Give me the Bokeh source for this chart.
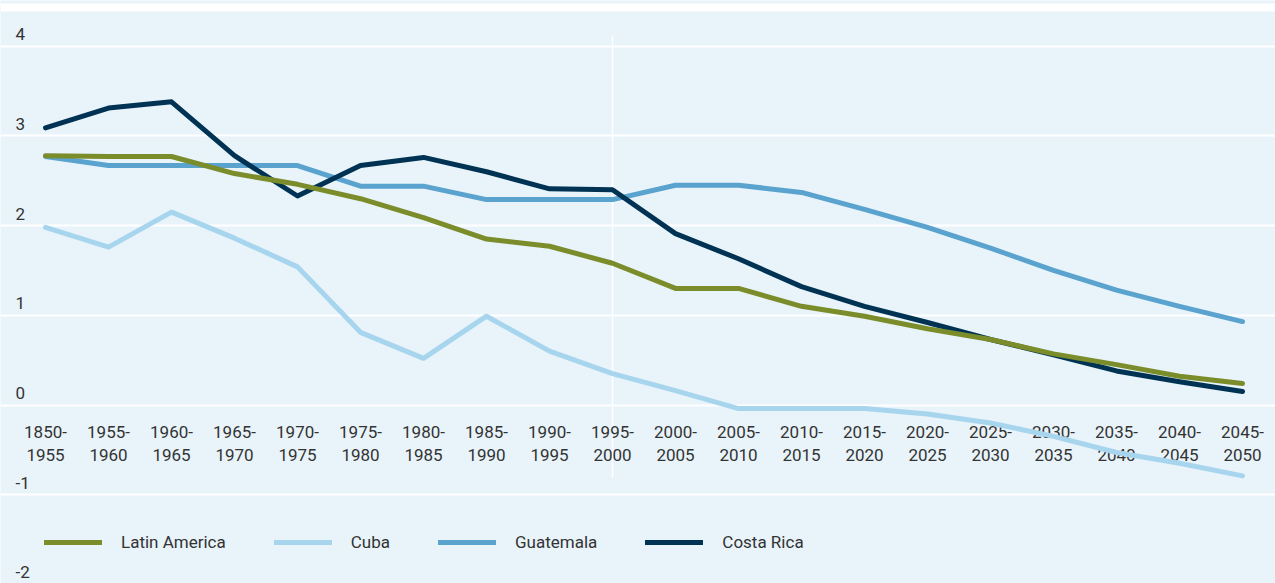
from bokeh.plotting import figure
from bokeh.models import Range1d, Grid, FixedTicker, Legend, LegendItem, BoxAnnotation
from bokeh.core.properties import value
from bokeh.embed import file_html
from bokeh.resources import INLINE

periods = ["1850-1955", "1955-1960", "1960-1965", "1965-1970", "1970-1975",
           "1975-1980", "1980-1985", "1985-1990", "1990-1995", "1995-2000",
           "2000-2005", "2005-2010", "2010-2015", "2015-2020", "2020-2025",
           "2025-2030", "2030-2035", "2035-2040", "2040-2045", "2045-2050"]
latin_america = [2.78, 2.77, 2.77, 2.58, 2.46, 2.30, 2.09, 1.85, 1.77, 1.58,
                 1.30, 1.30, 1.10, 0.99, 0.85, 0.73, 0.57, 0.45, 0.32, 0.24]
cuba = [1.98, 1.76, 2.15, 1.86, 1.54, 0.81, 0.52, 0.99, 0.60, 0.35,
        0.16, -0.04, -0.04, -0.04, -0.10, -0.20, -0.35, -0.53, -0.65, -0.79]
guatemala = [2.77, 2.67, 2.67, 2.67, 2.67, 2.44, 2.44, 2.29, 2.29, 2.29,
             2.45, 2.45, 2.37, 2.18, 1.98, 1.75, 1.50, 1.28, 1.10, 0.93]
costa_rica = [3.09, 3.31, 3.38, 2.78, 2.33, 2.67, 2.76, 2.60, 2.41, 2.40,
              1.91, 1.63, 1.32, 1.10, 0.92, 0.73, 0.56, 0.38, 0.26, 0.15]
y_ticks = [-2, -1, 0, 1, 2, 3, 4]

W, H = 1275, 583
FONT = "Roboto"
FS = "17px"
TXT = "#333333"
BG = "#e8f3fa"

# pixel geometry
X0_PX, DX_PX = 45.0, 63.0
Y0_PX, DY_PX = 404.5, 89.7

def dx(px):
    return (px - X0_PX) / DX_PX

def dy(py):
    return (Y0_PX - py) / DY_PX

x = list(range(len(periods)))

p = figure(width=W, height=H, output_backend="svg", toolbar_location=None,
           x_range=Range1d(dx(0), dx(W)), y_range=Range1d(dy(H), dy(0)),
           x_axis_location=None, y_axis_location=None,
           background_fill_color=BG, border_fill_color=BG,
           min_border=0, outline_line_color=None, margin=(0, 0, 0, 0))
p.grid.visible = False

# white strip at top
p.add_layout(BoxAnnotation(bottom=dy(11), top=dy(3), fill_color="white", fill_alpha=1,
                           line_alpha=0, level="underlay"))

grid = Grid(dimension=1, ticker=FixedTicker(ticks=y_ticks), grid_line_color="white",
            grid_line_width=2, bounds=(dx(15), dx(W)))
p.add_layout(grid)

# vertical divider at 1995-2000
p.segment(x0=[9], x1=[9], y0=[dy(35)], y1=[dy(477)], line_color="white", line_width=1.5)

# y labels
p.text(x=[dx(15)] * len(y_ticks), y=y_ticks, text=[str(t) for t in y_ticks],
       text_font=value(FONT), text_font_size=FS, text_color=TXT,
       text_align="left", text_baseline="middle", y_offset=-12)

# x labels (two lines)
line1 = [s.split("-")[0] + "-" for s in periods]
line2 = [s.split("-")[1] for s in periods]
p.text(x=x, y=[0] * len(x), text=line1, text_font=value(FONT), text_font_size=FS,
       text_color=TXT, text_align="center", text_baseline="middle", y_offset=27)
p.text(x=x, y=[0] * len(x), text=line2, text_font=value(FONT), text_font_size=FS,
       text_color=TXT, text_align="center", text_baseline="middle", y_offset=50)

series = [("Cuba", cuba, "#a7d5ee"),
          ("Guatemala", guatemala, "#5aa3cf"),
          ("Costa Rica", costa_rica, "#003353"),
          ("Latin America", latin_america, "#7b8d2b")]
rends = {}
for name, vals, col in series:
    rends[name] = p.line(x, vals, line_color=col, line_width=5, line_cap="round", line_join="round")

legend = Legend(items=[LegendItem(label=n, renderers=[rends[n]])
                       for n in ["Latin America", "Cuba", "Guatemala", "Costa Rica"]],
                orientation="horizontal", location=(44, 31),
                background_fill_alpha=0, border_line_alpha=0, padding=0, margin=0,
                glyph_width=58, glyph_height=20, label_standoff=19, spacing=48,
                label_text_font=FONT, label_text_font_size=FS, label_text_color=TXT)
p.add_layout(legend, "center")

open("out.html", "w").write(file_html(p, INLINE))
